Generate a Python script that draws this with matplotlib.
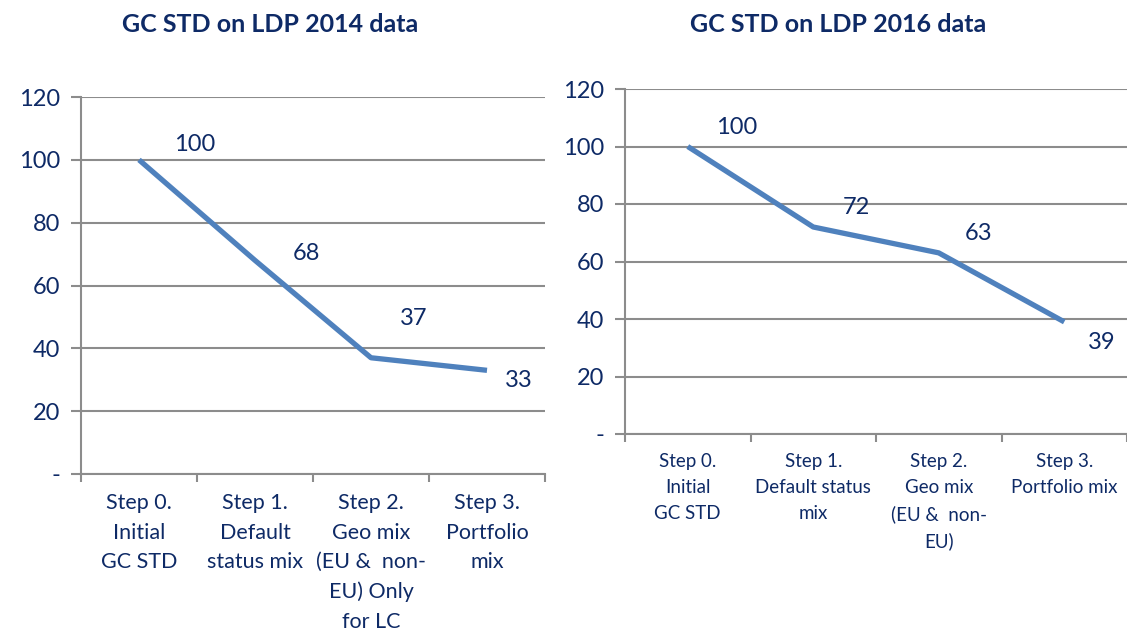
import numpy as np
import matplotlib.pyplot as plt

plt.rcParams['font.family'] = ['Lato', 'DejaVu Sans']

cats_2014 = ["Step 0.\nInitial\nGC STD", "Step 1.\nDefault\nstatus mix",
             "Step 2.\nGeo mix\n(EU &  non-\nEU) Only\nfor LC", "Step 3.\nPortfolio\nmix"]
vals_2014 = [100, 68, 37, 33]
cats_2016 = ["Step 0.\nInitial\nGC STD", "Step 1.\nDefault status\nmix",
             "Step 2.\nGeo mix\n(EU &  non-\nEU)", "Step 3.\nPortfolio mix"]
vals_2016 = [100, 72, 63, 39]
yticks = [0, 20, 40, 60, 80, 100, 120]
ylabels = ["-", "20", "40", "60", "80", "100", "120"]

navy = "#0e2a66"
grid = "#8c8c8c"
blue = "#4f81bd"

fig = plt.figure(figsize=(11.27, 6.3), dpi=100)


def panel(rect, cats, vals, offs, xfs, lsp, xmax):
    ax = fig.add_axes(rect)
    x = np.arange(len(vals))
    ax.plot(x, vals, color=blue, lw=3.8, solid_capstyle='butt', zorder=3)
    for xi, v, (dx, dy) in zip(x, vals, offs):
        ax.annotate(str(v), (xi, v), xytext=(dx, dy), textcoords='offset points',
                    ha='center', va='center', fontsize=17, color=navy)
    ax.set_xlim(-0.5, xmax)
    ax.set_ylim(0, 120)
    ax.set_yticks(yticks)
    ax.set_yticklabels(ylabels, fontsize=17, color=navy)
    ax.yaxis.grid(True, color=grid, lw=1.5)
    ax.set_axisbelow(True)
    ax.set_xticks(np.arange(-0.5, len(vals), 1.0))
    ax.set_xticklabels([])
    ax.set_xticks(x, minor=True)
    ax.set_xticklabels(cats, minor=True, fontsize=xfs, color=navy,
                       linespacing=lsp, va='top')
    ax.tick_params(axis='x', which='minor', length=0, pad=14)
    ax.tick_params(axis='x', which='major', length=6, color=grid, width=1.5)
    ax.tick_params(axis='y', length=7, color=grid, width=1.5, pad=8)
    for s in ['top', 'right']:
        ax.spines[s].set_visible(False)
    for s in ['left', 'bottom']:
        ax.spines[s].set_color(grid)
        ax.spines[s].set_linewidth(1.5)
    return ax


ax1 = panel([81 / 1127, 1 - 474 / 630, 464 / 1127, 377 / 630], cats_2014, vals_2014,
            [(40, 11), (37, 5), (31, 28), (23, -7)], 15.5, 1.58, 3.5)
ax2 = panel([625 / 1127, 1 - 434 / 630, 502 / 1127, 345 / 630], cats_2016, vals_2016,
            [(35, 14), (31, 14), (29, 14), (27, -15)], 13.5, 1.62, 3.45)

fig.text(270 / 1127, 1 - 24 / 630, "GC STD on LDP 2014 data", ha='center', va='center',
         fontsize=18, fontweight='bold', color=navy)
fig.text(838 / 1127, 1 - 24 / 630, "GC STD on LDP 2016 data", ha='center', va='center',
         fontsize=18, fontweight='bold', color=navy)

fig.savefig("out.png", dpi=100)
